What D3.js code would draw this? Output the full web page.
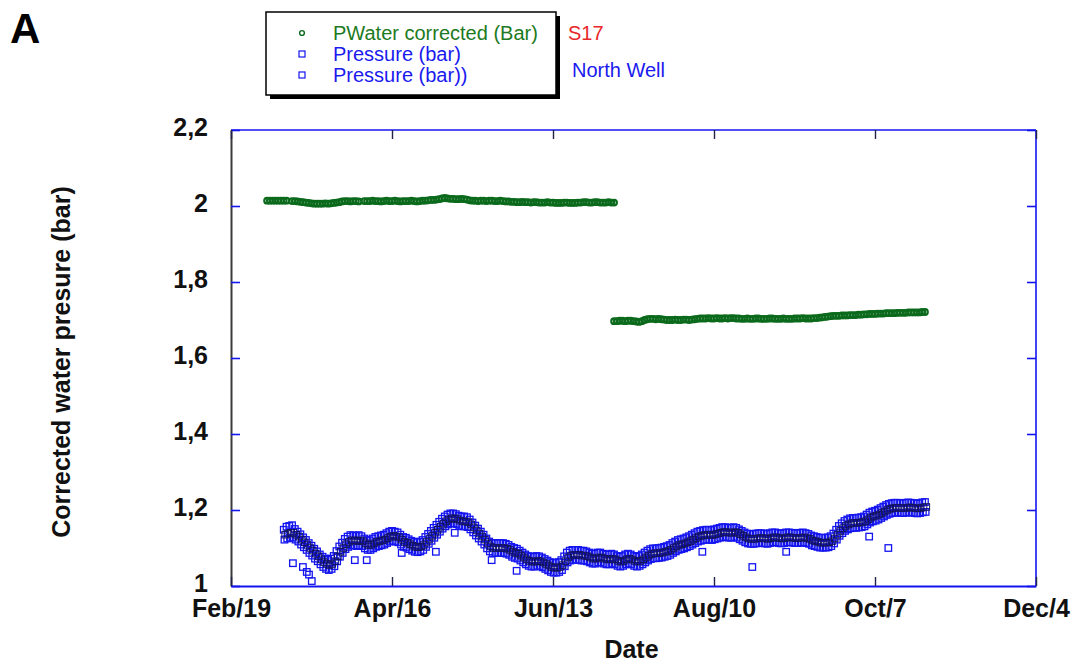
<!DOCTYPE html>
<html>
<head>
<meta charset="utf-8">
<script src="https://cdn.jsdelivr.net/npm/d3@7"></script>
<style>
  html, body { margin: 0; padding: 0; background: #ffffff; }
  svg { display: block; font-family: "Liberation Sans", Arial, sans-serif; }
</style>
</head>
<body>
<svg id="chart" width="1075" height="664"></svg>
<script>
// X axis: days since Feb/19, labelled every 58 days
const xTickDays = [0, 58, 116, 174, 232, 290];
const xTickLabels = ["Feb/19", "Apr/16", "Jun/13", "Aug/10", "Oct/7", "Dec/4"];
const yTickValues = [1, 1.2, 1.4, 1.6, 1.8, 2, 2.2];
const yTickLabels = ["1", "1,2", "1,4", "1,6", "1,8", "2", "2,2"];

// S17 – corrected water pressure (bar), one reading per day
const pwaterStartDay1 = 13;
const pwaterSegment1 = [
  2.014,2.014,2.014,2.014,2.014,2.014,2.014,2.014,null,2.013,
  2.013,2.012,2.011,2.010,2.009,2.008,2.007,2.006,2.006,2.006,
  2.006,2.007,2.006,2.007,2.008,2.009,2.010,2.012,2.013,2.013,
  2.012,2.013,2.013,2.012,null,2.013,2.013,2.013,2.014,2.013,
  2.013,2.012,2.013,2.014,2.013,2.013,2.014,2.013,2.012,2.013,
  2.013,2.013,2.014,2.013,2.012,2.013,2.014,2.014,2.015,2.016,
  2.016,2.017,2.018,2.020,2.021,2.020,2.019,2.019,2.018,2.018,
  2.019,2.018,2.017,2.015,2.014,2.014,2.013,2.014,2.014,2.013,
  2.014,2.014,2.013,2.013,2.014,2.013,2.012,2.012,2.011,2.011,
  2.010,2.010,2.011,2.010,2.010,2.009,2.010,2.010,2.009,2.009,
  2.009,2.010,2.009,2.009,2.008,2.008,2.008,2.009,2.009,2.008,
  2.008,2.008,2.009,2.009,2.010,2.010,2.009,2.009,2.010,2.010,
  2.009,2.009,2.009,2.010,2.009,2.009
];
const pwaterStartDay2 = 138;
const pwaterSegment2 = [
  1.697,1.697,1.698,1.698,1.697,1.698,1.698,1.697,1.696,1.695,
  1.697,1.700,1.702,1.703,1.703,1.702,1.703,1.702,1.701,1.700,
  1.700,1.700,1.701,1.700,1.700,1.701,1.701,1.700,1.701,1.702,
  1.703,1.704,1.704,1.704,1.705,1.704,1.704,1.705,1.704,1.704,
  1.705,1.704,1.705,1.705,1.704,1.704,1.703,1.703,1.704,1.703,
  1.703,1.704,1.704,1.703,1.703,1.703,1.704,1.704,1.703,1.703,
  1.703,1.704,1.703,1.703,1.703,1.704,1.704,1.704,1.705,1.704,
  1.704,1.704,1.705,1.705,1.706,1.707,1.708,1.709,1.710,1.711,
  1.711,1.711,1.712,1.712,1.712,1.713,1.713,1.713,1.714,1.714,
  1.715,1.715,1.716,1.716,1.716,1.717,1.717,1.717,1.718,1.718,
  1.718,1.718,1.719,1.719,1.719,1.719,1.720,1.720,1.720,1.720,
  1.720,1.721,1.721
];

// North Well – pressure (bar). Series 1: morning and evening readings; series 2: daily
const pressureStartDay = 19;
const pressure1Morning = [
  1.148,1.156,1.158,1.160,1.150,1.143,1.136,1.128,1.121,1.113,
  1.106,1.098,1.091,1.083,1.077,1.072,1.069,1.072,1.079,1.092,
  1.104,1.114,1.124,1.130,1.134,1.133,1.132,1.134,1.131,1.125,
  1.121,1.120,1.125,1.129,1.131,1.133,1.135,1.139,1.143,1.145,
  1.143,1.141,1.135,1.129,1.127,1.123,1.119,1.116,1.115,1.117,
  1.121,1.129,1.137,1.145,1.153,1.161,1.169,1.177,1.183,1.188,
  1.191,1.191,1.189,1.185,1.183,1.183,1.181,1.175,1.167,1.159,
  1.151,1.143,1.135,1.125,1.117,1.113,1.113,1.113,1.113,1.113,
  1.111,1.108,1.103,1.100,1.098,1.093,1.088,1.083,1.079,1.077,
  1.077,1.079,1.078,1.075,1.071,1.067,1.063,1.061,1.061,1.063,
  1.068,1.078,1.088,1.093,1.095,1.095,1.095,1.093,1.093,1.091,
  1.088,1.085,1.085,1.088,1.088,1.085,1.083,1.083,1.085,1.083,
  1.079,1.077,1.079,1.083,1.085,1.083,1.079,1.077,1.079,1.083,
  1.088,1.093,1.097,1.099,1.099,1.100,1.101,1.103,1.105,1.108,
  1.113,1.117,1.121,1.123,1.125,1.128,1.131,1.135,1.139,1.143,
  1.145,1.147,1.148,1.148,1.147,1.149,1.151,1.153,1.155,1.155,
  1.153,1.153,1.155,1.153,1.149,1.145,1.141,1.138,1.137,1.137,
  1.138,1.139,1.139,1.138,1.137,1.139,1.141,1.141,1.139,1.138,
  1.139,1.141,1.141,1.140,1.139,1.139,1.140,1.141,1.139,1.137,
  1.133,1.131,1.129,1.127,1.127,1.127,1.128,1.131,1.138,1.148,
  1.158,1.165,1.171,1.175,1.178,1.179,1.179,1.180,1.181,1.183,
  1.188,1.193,1.196,1.198,1.201,1.205,1.209,1.213,1.216,1.218,
  1.219,1.219,1.218,1.218,1.219,1.220,1.219,1.218,1.217,1.218,
  1.220,1.221
];
const pressure1Evening = [
  1.135,1.138,1.140,1.140,1.135,1.130,1.122,1.115,1.108,1.100,
  1.093,1.085,1.078,1.070,1.063,1.058,1.055,1.058,1.065,1.078,
  1.090,1.100,1.110,1.116,1.120,1.120,1.118,1.120,1.118,1.112,
  1.108,1.108,1.112,1.116,1.118,1.120,1.122,1.126,1.130,1.132,
  1.130,1.128,1.122,1.116,1.114,1.110,1.106,1.103,1.102,1.104,
  1.108,1.116,1.124,1.132,1.140,1.148,1.156,1.164,1.170,1.175,
  1.178,1.178,1.176,1.172,1.170,1.170,1.168,1.162,1.154,1.146,
  1.138,1.130,1.122,1.112,1.104,1.100,1.100,1.100,1.100,1.100,
  1.098,1.095,1.090,1.087,1.085,1.080,1.075,1.070,1.066,1.064,
  1.064,1.066,1.065,1.062,1.058,1.054,1.050,1.048,1.048,1.050,
  1.055,1.065,1.075,1.080,1.082,1.082,1.082,1.080,1.080,1.078,
  1.075,1.072,1.072,1.075,1.075,1.072,1.070,1.070,1.072,1.070,
  1.066,1.064,1.066,1.070,1.072,1.070,1.066,1.064,1.066,1.070,
  1.075,1.080,1.084,1.086,1.086,1.087,1.088,1.090,1.092,1.095,
  1.100,1.104,1.108,1.110,1.112,1.115,1.118,1.122,1.126,1.130,
  1.132,1.134,1.135,1.135,1.134,1.136,1.138,1.140,1.142,1.142,
  1.140,1.140,1.142,1.140,1.136,1.132,1.128,1.125,1.124,1.124,
  1.125,1.126,1.126,1.125,1.124,1.126,1.128,1.128,1.126,1.125,
  1.126,1.128,1.128,1.127,1.126,1.126,1.127,1.128,1.126,1.124,
  1.120,1.118,1.116,1.114,1.114,1.114,1.115,1.118,1.125,1.135,
  1.145,1.152,1.158,1.162,1.165,1.166,1.166,1.167,1.168,1.170,
  1.175,1.180,1.183,1.185,1.188,1.192,1.196,1.200,1.203,1.205,
  1.206,1.206,1.205,1.205,1.206,1.207,1.206,1.205,1.204,1.205,
  1.207,1.208
];
const pressure2 = [
  1.122,1.125,1.127,1.127,1.122,1.117,1.109,1.102,1.095,1.087,
  1.080,1.072,1.065,1.057,1.050,1.045,1.042,1.045,1.052,1.065,
  1.077,1.087,1.097,1.103,1.107,1.107,1.105,1.107,1.105,1.099,
  1.095,1.095,1.099,1.103,1.105,1.107,1.109,1.113,1.117,1.119,
  1.117,1.115,1.109,1.103,1.101,1.097,1.093,1.090,1.089,1.091,
  1.095,1.103,1.111,1.119,1.127,1.135,1.143,1.151,1.157,1.162,
  1.165,1.165,1.163,1.159,1.157,1.157,1.155,1.149,1.141,1.133,
  1.125,1.117,1.109,1.099,1.091,1.087,1.087,1.087,1.087,1.087,
  1.085,1.082,1.077,1.074,1.072,1.067,1.062,1.057,1.053,1.051,
  1.051,1.053,1.052,1.049,1.045,1.041,1.037,1.035,1.035,1.037,
  1.042,1.052,1.062,1.067,1.069,1.069,1.069,1.067,1.067,1.065,
  1.062,1.059,1.059,1.062,1.062,1.059,1.057,1.057,1.059,1.057,
  1.053,1.051,1.053,1.057,1.059,1.057,1.053,1.051,1.053,1.057,
  1.062,1.067,1.071,1.073,1.073,1.074,1.075,1.077,1.079,1.082,
  1.087,1.091,1.095,1.097,1.099,1.102,1.105,1.109,1.113,1.117,
  1.119,1.121,1.122,1.122,1.121,1.123,1.125,1.127,1.129,1.129,
  1.127,1.127,1.129,1.127,1.123,1.119,1.115,1.112,1.111,1.111,
  1.112,1.113,1.113,1.112,1.111,1.113,1.115,1.115,1.113,1.112,
  1.113,1.115,1.115,1.114,1.113,1.113,1.114,1.115,1.113,1.111,
  1.107,1.105,1.103,1.101,1.101,1.101,1.102,1.105,1.112,1.122,
  1.132,1.139,1.145,1.149,1.152,1.153,1.153,1.154,1.155,1.157,
  1.162,1.167,1.170,1.172,1.175,1.179,1.183,1.187,1.190,1.192,
  1.193,1.193,1.192,1.192,1.193,1.194,1.193,1.192,1.191,1.192,
  1.194,1.195
];
// isolated low readings: [day, bar]
const pressureOutliers = [
  [22.3, 1.060], [25.9, 1.050], [27.3, 1.037], [28.1, 1.030], [29.1, 1.013],
  [44.6, 1.068], [48.9, 1.068], [61.5, 1.087], [73.8, 1.090], [80.6, 1.140],
  [93.9, 1.068], [102.9, 1.040], [169.8, 1.090], [187.8, 1.050], [200.0, 1.090],
  [229.9, 1.130], [236.8, 1.100]
];

const legendItems = ["PWater corrected (Bar)", "Pressure (bar)", "Pressure (bar))"];
const legendNotes = ["S17", "North Well"];

// ---- layout ----
const plot = { left: 231, right: 1036, top: 130, bottom: 586 };
const green = "#0b6a1c", blue = "#1414f0", navy = "#14145e";

const svg = d3.select("#chart");
svg.append("rect").attr("width", 1075).attr("height", 664).attr("fill", "#ffffff");

const x = d3.scaleLinear().domain([0, 290]).range([plot.left, plot.right]);
const y = d3.scaleLinear().domain([1, 2.2]).range([plot.bottom, plot.top]);

const toPoints = (start, vals, offset = 0) =>
  vals.map((v, i) => [start + i + offset, v]).filter(p => p[1] !== null);
const pwaterPts = toPoints(pwaterStartDay1, pwaterSegment1).concat(toPoints(pwaterStartDay2, pwaterSegment2));
const press1Pts = toPoints(pressureStartDay, pressure1Morning);
const press1EvePts = toPoints(pressureStartDay, pressure1Evening, 0.5);
const press2Pts = toPoints(pressureStartDay, pressure2, 0.25).concat(pressureOutliers);

// ---- frame: blue top/right/bottom, dark left ----
const frame = svg.append("g");
frame.append("line").attr("x1", plot.left).attr("x2", plot.right).attr("y1", plot.top).attr("y2", plot.top)
  .attr("stroke", blue).attr("stroke-width", 1.6);
frame.append("line").attr("x1", plot.right).attr("x2", plot.right).attr("y1", plot.top).attr("y2", plot.bottom)
  .attr("stroke", blue).attr("stroke-width", 1.6);

// ---- axes ----
const fontTick = "bold 25px 'Liberation Sans', Arial, sans-serif";

const yAxis = d3.axisLeft(y).tickValues(yTickValues).tickSizeInner(-9).tickSizeOuter(0)
  .tickPadding(23).tickFormat((d, i) => yTickLabels[i]);
const gy = svg.append("g").attr("transform", `translate(${plot.left},0)`).call(yAxis);
gy.select(".domain").attr("stroke", "#3a3a3a").attr("stroke-width", 2);
gy.selectAll(".tick line").attr("stroke", blue).attr("stroke-width", 1.6);
gy.selectAll(".tick text").attr("fill", "#111").attr("dy", "0.2em").style("font", fontTick);

const yAxisR = d3.axisRight(y).tickValues(yTickValues).tickSizeInner(-9).tickSizeOuter(0).tickFormat("");
const gyr = svg.append("g").attr("transform", `translate(${plot.right},0)`).call(yAxisR);
gyr.select(".domain").remove();
gyr.selectAll(".tick line").attr("stroke", blue).attr("stroke-width", 1.6);

const xAxis = d3.axisBottom(x).tickValues(xTickDays).tickSizeInner(-9).tickSizeOuter(0)
  .tickPadding(13).tickFormat((d, i) => xTickLabels[i]);
const gx = svg.append("g").attr("transform", `translate(0,${plot.bottom})`).call(xAxis);
gx.select(".domain").attr("stroke", blue).attr("stroke-width", 1.8);
gx.selectAll(".tick line").attr("stroke", "#22224a").attr("stroke-width", 1.4);
gx.selectAll(".tick text").attr("fill", "#111").style("font", fontTick);

const xAxisT = d3.axisTop(x).tickValues(xTickDays).tickSizeInner(-9).tickSizeOuter(0).tickFormat("");
const gxt = svg.append("g").attr("transform", `translate(0,${plot.top})`).call(xAxisT);
gxt.select(".domain").remove();
gxt.selectAll(".tick line").attr("stroke", "#22224a").attr("stroke-width", 1.4);

// axis titles
svg.append("text").attr("x", (plot.left + plot.right) / 2 - 2).attr("y", 658)
  .attr("text-anchor", "middle").attr("fill", "#111")
  .style("font", "bold 25px 'Liberation Sans', Arial, sans-serif").text("Date");
svg.append("text").attr("transform", "translate(70,362) rotate(-90)")
  .attr("text-anchor", "middle").attr("fill", "#111")
  .style("font", "bold 25px 'Liberation Sans', Arial, sans-serif").text("Corrected water presure (bar)");

// panel letter
svg.append("text").attr("x", 10).attr("y", 43).attr("fill", "#000")
  .style("font", "bold 42px 'Liberation Sans', Arial, sans-serif").text("A");

// ---- data marks ----
const sq = 6.5;
const squares = (pts, stroke, sw) => svg.append("g").selectAll("rect").data(pts).join("rect")
  .attr("x", d => x(d[0]) - sq / 2).attr("y", d => y(d[1]) - sq / 2)
  .attr("width", sq).attr("height", sq)
  .attr("fill", "none").attr("stroke", stroke).attr("stroke-width", sw);
squares(press2Pts, blue, 1.3);
squares(press1Pts, blue, 1.3);
squares(press1EvePts, navy, 1.0);

svg.append("g").selectAll("circle").data(pwaterPts).join("circle")
  .attr("cx", d => x(d[0])).attr("cy", d => y(d[1])).attr("r", 2.8)
  .attr("fill", "none").attr("stroke", green).attr("stroke-width", 2.2);

// ---- legend ----
const lg = svg.append("g");
lg.append("rect").attr("x", 270).attr("y", 16).attr("width", 290).attr("height", 83).attr("fill", "#000");
lg.append("rect").attr("x", 266).attr("y", 12).attr("width", 290).attr("height", 83)
  .attr("fill", "#fff").attr("stroke", "#000").attr("stroke-width", 1.5);
const rowY = [33, 54, 75];
const rowColor = ["#1c7a22", "#1a1aee", "#1a1aee"];
lg.append("circle").attr("cx", 302).attr("cy", rowY[0]).attr("r", 2.4)
  .attr("fill", "none").attr("stroke", green).attr("stroke-width", 1.4);
[1, 2].forEach(i => lg.append("rect").attr("x", 299).attr("y", rowY[i] - 3).attr("width", 6).attr("height", 6)
  .attr("fill", "none").attr("stroke", blue).attr("stroke-width", 1.2));
legendItems.forEach((t, i) => lg.append("text").attr("x", 333).attr("y", rowY[i] + 7)
  .attr("fill", rowColor[i]).style("font", "20px 'Liberation Sans', Arial, sans-serif").text(t));
lg.append("text").attr("x", 568).attr("y", 40).attr("fill", "#e8282a")
  .style("font", "20px 'Liberation Sans', Arial, sans-serif").text(legendNotes[0]);
lg.append("text").attr("x", 572).attr("y", 77).attr("fill", "#1a1aee")
  .style("font", "20px 'Liberation Sans', Arial, sans-serif").text(legendNotes[1]);
</script>
</body>
</html>
